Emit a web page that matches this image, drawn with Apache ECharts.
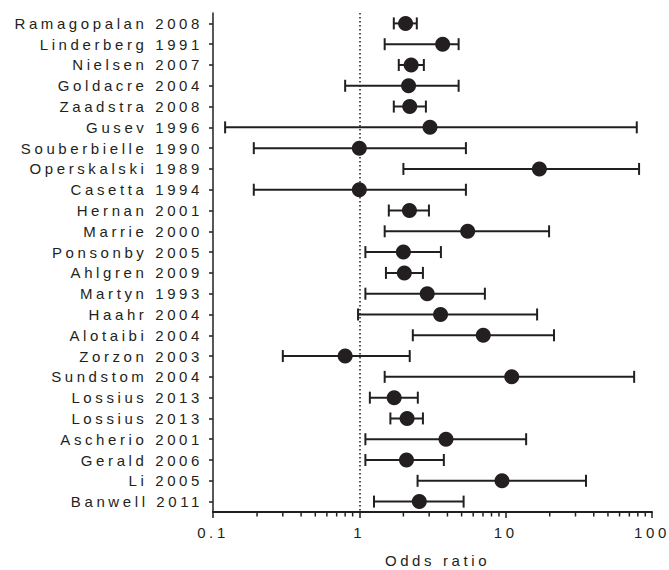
<!DOCTYPE html>
<html>
<head>
<meta charset="utf-8">
<script src="https://cdn.jsdelivr.net/npm/echarts@6/dist/echarts.min.js"></script>
<style>
html,body{margin:0;padding:0;background:#fff;}
#chart{width:669px;height:570px;}
#chart text{letter-spacing:3.6px;}
</style>
</head>
<body>
<div id="chart"></div>
<script>
const studies = ['Ramagopalan 2008','Linderberg 1991','Nielsen 2007','Goldacre 2004','Zaadstra 2008','Gusev 1996','Souberbielle 1990','Operskalski 1989','Casetta 1994','Hernan 2001','Marrie 2000','Ponsonby 2005','Ahlgren 2009','Martyn 1993','Haahr 2004','Alotaibi 2004','Zorzon 2003','Sundstom 2004','Lossius 2013','Lossius 2013','Ascherio 2001','Gerald 2006','Li 2005','Banwell 2011'];
const oddsRatio = [2.07,3.71,2.26,2.17,2.21,3.04,1.0,17.0,1.0,2.20,5.50,2.0,2.03,2.91,3.59,7.03,0.80,11.0,1.73,2.12,3.91,2.10,9.44,2.57];
const ciLow = [1.72,1.49,1.86,0.80,1.72,0.121,0.19,2.0,0.19,1.59,1.49,1.10,1.52,1.10,0.98,2.32,0.30,1.49,1.18,1.63,1.10,1.10,2.50,1.26];
const ciHigh = [2.47,4.77,2.76,4.77,2.85,78.7,5.35,81.6,5.35,2.99,19.8,3.61,2.72,7.21,16.4,21.4,2.21,75.5,2.51,2.72,13.8,3.78,35.4,5.16];
const xTickLabels = {'-1':'0.1','0':'1','1':'10','2':'100'};
const minorTickValues = [0.2,0.3,0.4,0.5,0.6,0.7,0.8,0.9,2,3,4,5,6,7,8,9,20,30,40,50,60,70,80,90];
const referenceValue = 1;

const ink = '#231f20';
const chart = echarts.init(document.getElementById('chart'), null, {renderer:'svg'});

const errorData = studies.map((s,i)=>[ciLow[i], ciHigh[i], i]);
const pointData = studies.map((s,i)=>[oddsRatio[i], i]);
const minorData = minorTickValues.map(v=>[v, studies.length-1]);

chart.setOption({
  animation:false,
  backgroundColor:'#fff',
  textStyle:{fontFamily:'Liberation Sans, Arial, sans-serif'},
  grid:{left:213, right:17, top:13, bottom:58, outerBoundsMode:'none', containLabel:false},
  xAxis:{
    type:'log', logBase:10, min:0.1, max:100,
    name:'Odds ratio', nameLocation:'middle', nameGap:41,
    nameTextStyle:{fontSize:15, color:ink, padding:[0,0,0,10], fontFamily:'Liberation Sans, Arial, sans-serif'},
    axisLine:{show:true, lineStyle:{color:ink, width:2}},
    axisTick:{show:true, length:6, lineStyle:{color:ink, width:1.5}},
    splitLine:{show:false},
    axisLabel:{fontSize:15, color:ink, margin:13,
      formatter:v=>xTickLabels[String(Math.round(Math.log10(v)))] || ''}
  },
  yAxis:{
    type:'category', data:studies, inverse:true,
    axisLine:{show:true, lineStyle:{color:ink, width:1.5}},
    axisTick:{show:true, alignWithLabel:true, length:4, lineStyle:{color:ink, width:1.5}},
    axisLabel:{fontSize:15, color:ink, margin:10},
    splitLine:{show:false}
  },
  series:[
    {
      type:'custom', name:'minor', data:minorData, clip:false, silent:true, z:5,
      encode:{x:0, y:1},
      renderItem:(params, api)=>{
        const p = api.coord([api.value(0), api.value(1)]);
        const half = api.size([0, 1])[1] / 2;
        const yb = p[1] + half;
        return {type:'line', shape:{x1:p[0], y1:yb, x2:p[0], y2:yb+4.5},
          style:{stroke:ink, lineWidth:1.5}};
      }
    },
    {
      type:'custom', name:'CI', data:errorData, silent:true, z:2,
      encode:{x:[0,1], y:2},
      renderItem:(params, api)=>{
        const lo = api.coord([api.value(0), api.value(2)]);
        const hi = api.coord([api.value(1), api.value(2)]);
        const c = 6;
        const st = {stroke:ink, lineWidth:2};
        return {type:'group', children:[
          {type:'line', shape:{x1:lo[0], y1:lo[1], x2:hi[0], y2:hi[1]}, style:st},
          {type:'line', shape:{x1:lo[0], y1:lo[1]-c, x2:lo[0], y2:lo[1]+c}, style:st},
          {type:'line', shape:{x1:hi[0], y1:hi[1]-c, x2:hi[0], y2:hi[1]+c}, style:st}
        ]};
      }
    },
    {
      type:'scatter', name:'OR', data:pointData, symbol:'circle', symbolSize:15, z:3,
      itemStyle:{color:ink, opacity:1},
      markLine:{silent:true, symbol:['none','none'], label:{show:false},
        lineStyle:{color:ink, type:[1.5,2.5], width:1.5},
        data:[{xAxis:referenceValue}]}
    }
  ]
});
</script>
</body>
</html>
